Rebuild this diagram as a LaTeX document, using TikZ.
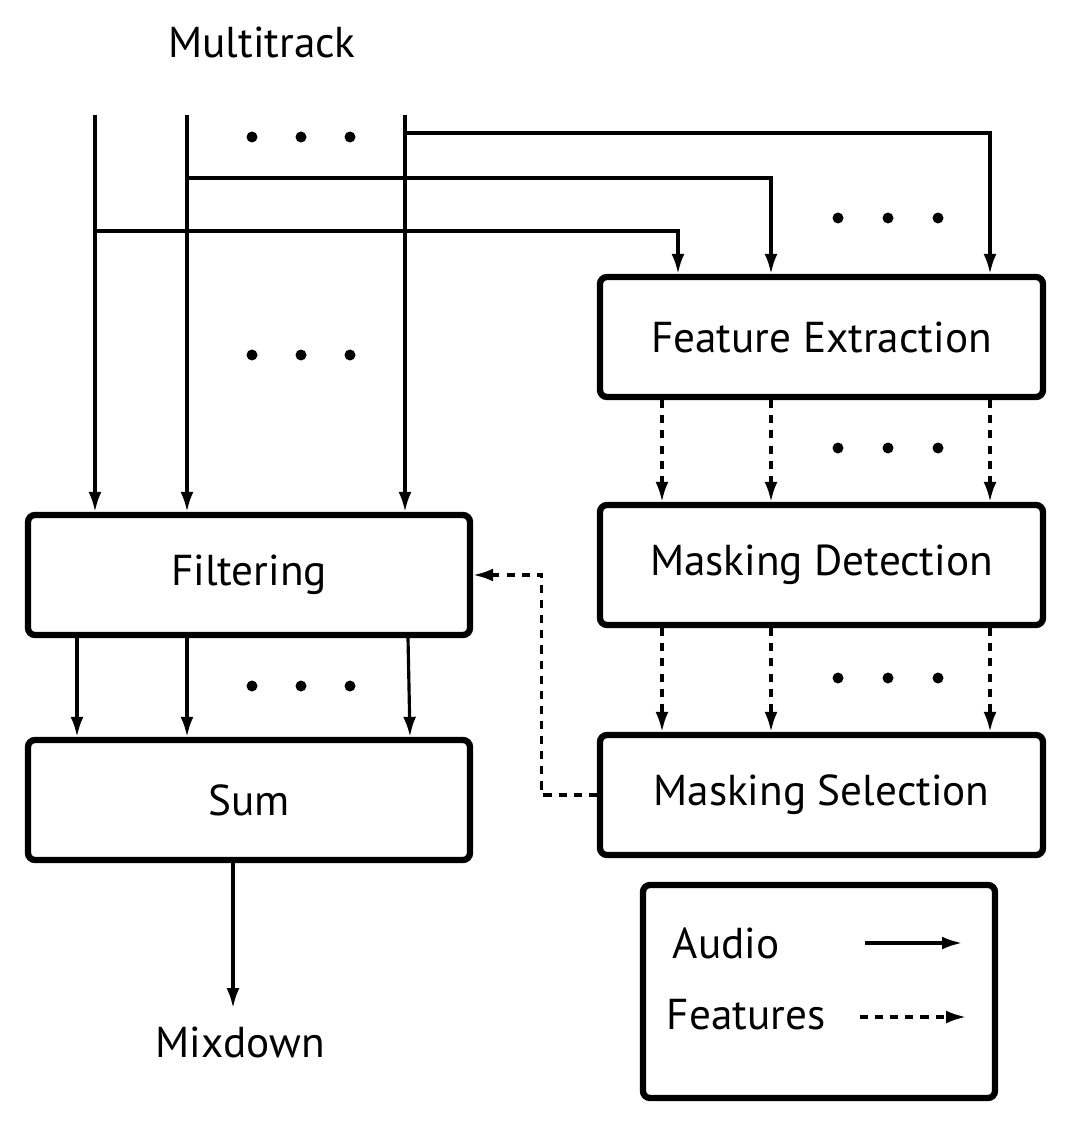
\documentclass[tikz,border=0pt]{standalone}
\usepackage{fontspec}
\setmainfont{PT Sans}
\usetikzlibrary{arrows.meta}
\tikzset{
  blk/.style={
    rectangle, draw=black, line width=1.8pt, rounded corners=2pt,
    minimum width=4.42cm, minimum height=1.2cm,
    align=center, fill=white,
    font=\fontsize{12.3}{14}\selectfont
  },
  txt/.style  = {font=\fontsize{12.3}{14}\selectfont, inner sep=0pt},
  arr/.style  = {-{Latex[length=2mm, width=1.3mm]}, line width=0.9pt},
  darr/.style = {-{Latex[length=2mm, width=1.3mm]}, line width=0.9pt,
                 dash pattern=on 2.3pt off 2pt},
}

\begin{document}
\begin{tikzpicture}
\useasboundingbox (0,0) rectangle (10.88,-11.26);

%% ── Input tracks ─────────────────────────────────────────────────────────────
\node[txt] (MT) at (2.62,-0.42) {Multitrack};
\coordinate (T1) at (0.95,-1.15);
\coordinate (T2) at (1.87,-1.15);
\coordinate (T3) at (4.05,-1.15);

%% ── Left column: Filtering | Sum ────────────────────────────────────────────
\node[blk] (FILT) at (2.49,-5.75) {Filtering};
\node[blk] (SUM)  at (2.49,-8.00) {Sum};
\node[txt] (MIX)  at (2.40,-10.42) {Mixdown};
\coordinate (MIXIN) at (2.33,-10.08);

%% ── Right column: Feature Extraction | Masking Detection | Masking Selection
\node[blk, minimum width=4.43cm] (FE) at (8.215,-3.37) {Feature Extraction};
\node[blk, minimum width=4.43cm] (MD) at (8.215,-5.65) {Masking Detection};
\node[blk, minimum width=4.43cm] (MS) at (8.215,-7.95) {Masking Selection};

%% ── Legend ──────────────────────────────────────────────────────────────────
\node[blk, minimum width=3.52cm, minimum height=2.13cm] (LEG) at (8.19,-9.915) {};
\node[txt, anchor=west] (AUD)  at (6.72,-9.43) {Audio};
\node[txt, anchor=west] (FEAT) at (6.66,-10.15) {Features};
\coordinate (A1) at (8.65,-9.43);
\coordinate (A2) at (9.62,-9.43);
\coordinate (F1) at (8.60,-10.17);
\coordinate (F2) at (9.66,-10.17);
\draw[arr]  (A1) -- (A2);
\draw[darr] (F1) -- (F2);

%% ── Tracks → Filtering ──────────────────────────────────────────────────────
\draw[arr] (T1) -- (T1 |- FILT.north);
\draw[arr] (T2) -- (T2 |- FILT.north);
\draw[arr] (T3) -- (T3 |- FILT.north);

%% ── Tracks → Feature Extraction ─────────────────────────────────────────────
\draw[arr] ([yshift=-1.8mm]T3)  -| ([xshift=16.85mm]FE.north);
\draw[arr] ([yshift=-6.3mm]T2)  -| ([xshift=-5.05mm]FE.north);
\draw[arr] ([yshift=-11.6mm]T1) -| ([xshift=-14.35mm]FE.north);

%% ── Feature Extraction → Masking Detection (features) ───────────────────────
\draw[darr] ([xshift=-15.95mm]FE.south) -- ([xshift=-15.95mm]MD.north);
\draw[darr] ([xshift=-5.05mm]FE.south)  -- ([xshift=-5.05mm]MD.north);
\draw[darr] ([xshift=16.85mm]FE.south)  -- ([xshift=16.85mm]MD.north);

%% ── Masking Detection → Masking Selection (features) ────────────────────────
\draw[darr] ([xshift=-15.95mm]MD.south) -- ([xshift=-15.95mm]MS.north);
\draw[darr] ([xshift=-5.05mm]MD.south)  -- ([xshift=-5.05mm]MS.north);
\draw[darr] ([xshift=16.85mm]MD.south)  -- ([xshift=16.85mm]MS.north);

%% ── Masking Selection → Filtering (feedback) ────────────────────────────────
\draw[darr] (MS.west) -- ++(-0.55,0) |- (FILT.east);

%% ── Filtering → Sum ─────────────────────────────────────────────────────────
\draw[arr] ([xshift=-17.2mm]FILT.south) -- ([xshift=-17.2mm]SUM.north);
\draw[arr] ([xshift=-6.2mm]FILT.south)  -- ([xshift=-6.2mm]SUM.north);
\draw[arr] ([xshift=15.9mm]FILT.south)  -- ([xshift=16.1mm]SUM.north);

%% ── Sum → Mixdown ───────────────────────────────────────────────────────────
\draw[arr] (SUM.south -| MIXIN) -- (MIXIN);

%% ── Dots ────────────────────────────────────────────────────────────────────
\foreach \y in {-1.37,-3.55,-6.86}
  \foreach \x in {2.52,3.01,3.50}
    \fill (\x,\y) circle (0.055);
\foreach \y in {-2.18,-4.48,-6.78}
  \foreach \x in {8.38,8.88,9.38}
    \fill (\x,\y) circle (0.055);

\end{tikzpicture}
\end{document}
